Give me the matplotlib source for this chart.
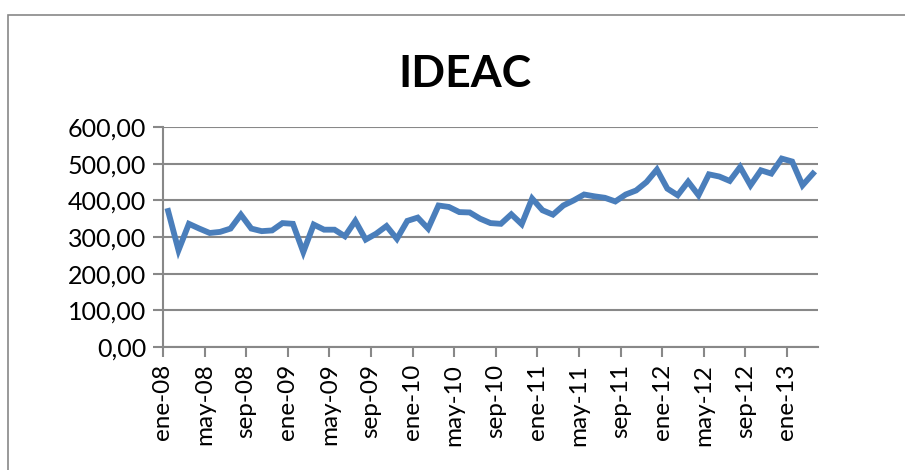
import matplotlib
matplotlib.use("Agg")
import matplotlib.pyplot as plt
from matplotlib.patches import Rectangle

# serie mensual IDEAC, ene-08 a mar-13
meses = ['ene', 'feb', 'mar', 'abr', 'may', 'jun', 'jul', 'ago', 'sep', 'oct', 'nov', 'dic']
anios = ['08', '09', '10', '11', '12', '13']
etiquetas = [m + '-' + a for a in anios for m in meses][:63]

ideac = [371, 264, 336, 323, 311, 314, 323, 361, 323, 316,
         318, 338, 336, 259, 334, 320, 320, 302, 344, 293,
         309, 330, 295, 344, 353, 323, 386, 382, 368, 367,
         350, 338, 336, 362, 335, 405, 373, 361, 386, 400,
         416, 411, 407, 397, 416, 427, 450, 484, 432, 414,
         451, 414, 471, 465, 453, 491, 441, 482, 473, 514,
         506, 441, 473]

plt.rcParams['font.family'] = ['Lato', 'DejaVu Sans']

fig = plt.figure(figsize=(9.05, 4.70), dpi=100)
ax = fig.add_axes([0.180, 0.2617, 0.724, 0.468])

x = [i + 0.5 for i in range(len(ideac))]
ax.plot(x, ideac, color='#4A7EBB', lw=4.2, solid_joinstyle='miter', zorder=3)

ax.set_xlim(0, len(ideac))
ax.set_ylim(0, 600)
ax.set_yticks(range(0, 601, 100))
ax.set_yticklabels(['%d,00' % v for v in range(0, 601, 100)], fontsize=18)
ax.set_xticks(range(0, len(ideac), 4))
ax.set_xticklabels(etiquetas[::4], rotation=90, fontsize=17.5)

ax.grid(axis='y', color='#888888', lw=1.5, zorder=1)
ax.tick_params(axis='both', color='#888888', width=1.5, length=7, pad=5)
for s in ['top', 'right']:
    ax.spines[s].set_visible(False)
for s in ['left', 'bottom']:
    ax.spines[s].set_color('#888888')
    ax.spines[s].set_linewidth(1.5)

fig.text(0.514, 0.842, 'IDEAC', ha='center', va='center', fontsize=32, fontweight='bold')

# marco del grafico
fig.patches.append(Rectangle((8 / 905, -0.1), 1.2, (470 - 15) / 470 + 0.1,
                             transform=fig.transFigure, fill=False,
                             edgecolor='#888888', lw=1.2))

fig.savefig('out.png', dpi=100)
